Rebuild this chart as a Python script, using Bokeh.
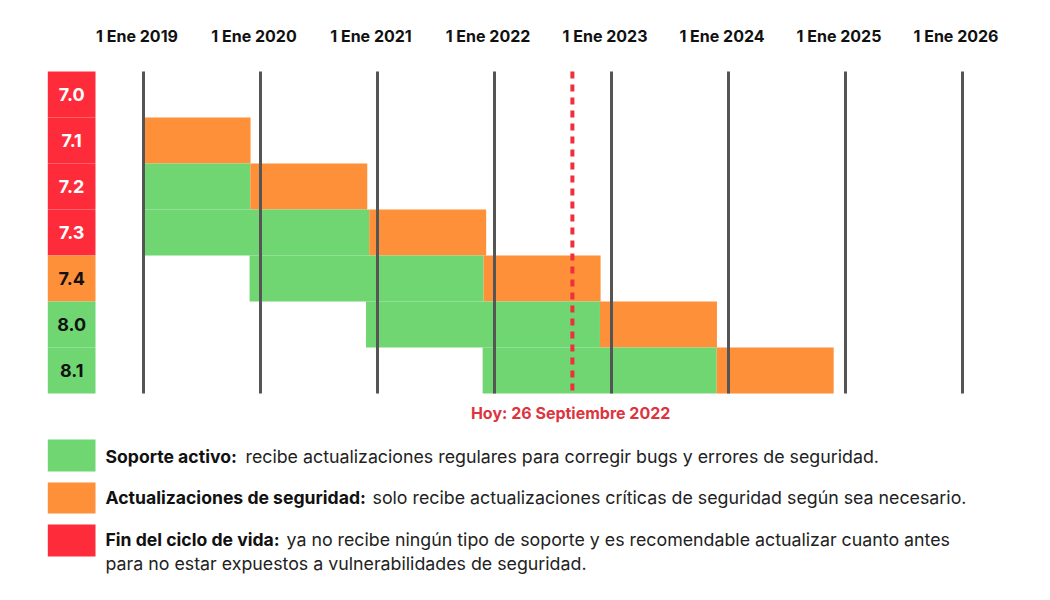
import datetime as dt
from bokeh.plotting import figure
from bokeh.models import Range1d, LinearAxis, FixedTicker, ColumnDataSource
from bokeh.core.properties import value
from bokeh.embed import file_html
from bokeh.resources import INLINE

# ---------------- data ----------------
versions = ["7.0", "7.1", "7.2", "7.3", "7.4", "8.0", "8.1"]
active_start = ["2015-12-03", "2016-12-01", "2017-11-30", "2018-12-06", "2019-11-28", "2020-11-26", "2021-11-25"]
active_end = ["2018-01-10", "2018-12-01", "2019-11-30", "2020-12-06", "2021-11-28", "2022-11-26", "2023-11-25"]
security_end = ["2018-12-31", "2019-12-01", "2020-11-30", "2021-12-06", "2022-11-28", "2023-11-26", "2024-11-25"]
version_status = ["eol", "eol", "eol", "eol", "security", "active", "active"]

year_ticks = [2019, 2020, 2021, 2022, 2023, 2024, 2025, 2026]
year_labels = ["1 Ene 2019", "1 Ene 2020", "1 Ene 2021", "1 Ene 2022",
               "1 Ene 2023", "1 Ene 2024", "1 Ene 2025", "1 Ene 2026"]

today_mark = "2022-09-01"
today_label = "Hoy: 26 Septiembre 2022"

legend_status = ["active", "security", "eol"]
legend_titles = ["Soporte activo:", "Actualizaciones de seguridad:", "Fin del ciclo de vida:"]
legend_texts = ["recibe actualizaciones regulares para corregir bugs y errores de seguridad.",
                "solo recibe actualizaciones críticas de seguridad según sea necesario.",
                "ya no recibe ningún tipo de soporte y es recomendable actualizar cuanto antes"]
legend_extra = "para no estar expuestos a vulnerabilidades de seguridad."

# ---------------- style ----------------
COLORS = {"active": "#6fd672", "security": "#fe9039", "eol": "#fe2c3a"}
TEXT_ON = {"active": "#111111", "security": "#111111", "eol": "#ffffff"}
FONT = value("Inter")

W, H = 1034, 584
TOP = 60
PX_PER_YEAR = 117.0
X0_PX = 143.0          # canvas x of first year line
ROW_PX = 46.0
ROW0_PX = 94.0         # canvas y of first row centre
LABEL_SHIFT = 6.5 / PX_PER_YEAR   # year labels sit slightly left of their line


def frac_year(s):
    d = dt.date.fromisoformat(s)
    start = dt.date(d.year, 1, 1)
    n = (dt.date(d.year + 1, 1, 1) - start).days
    return d.year + (d - start).days / n


def xpx(px):   # canvas px -> year coordinate (layout helper)
    return year_ticks[0] + (px - X0_PX) / PX_PER_YEAR


def ypx(px):   # canvas px -> row coordinate (layout helper)
    return (px - ROW0_PX) / ROW_PX


p = figure(width=W, height=H, output_backend="svg", toolbar_location=None,
           x_axis_type=None, y_axis_type=None,
           min_border_left=0, min_border_right=0, min_border_bottom=0, min_border_top=TOP,
           x_range=Range1d(xpx(0), xpx(W)),
           y_range=Range1d(ypx(H), ypx(TOP)))
p.outline_line_color = None
p.xgrid.visible = False
p.ygrid.visible = False
p.background_fill_color = "white"
p.border_fill_color = "white"

# top axis with year labels
label_pos = [y - LABEL_SHIFT for y in year_ticks]
ax = LinearAxis(ticker=FixedTicker(ticks=label_pos),
                major_label_overrides={t: l for t, l in zip(label_pos, year_labels)})
ax.axis_line_color = None
ax.major_tick_line_color = None
ax.minor_tick_line_color = None
ax.major_tick_out = 0
ax.major_label_standoff = 15
ax.major_label_text_font = "Inter"
ax.major_label_text_font_style = "bold"
ax.major_label_text_font_size = "16px"
ax.major_label_text_color = "#111111"
p.add_layout(ax, "above")

first = float(year_ticks[0])
rows = list(range(len(versions)))

# bars
bl, br, bt, bb, bc = [], [], [], [], []
for i in rows:
    a0 = max(frac_year(active_start[i]), first)
    a1 = frac_year(active_end[i])
    s1 = frac_year(security_end[i])
    if a1 > a0:
        bl.append(a0); br.append(a1); bt.append(i - 0.5); bb.append(i + 0.5); bc.append(COLORS["active"])
    s0 = max(a1, first)
    if s1 > s0:
        bl.append(s0); br.append(s1); bt.append(i - 0.5); bb.append(i + 0.5); bc.append(COLORS["security"])
p.quad(left=bl, right=br, top=bt, bottom=bb, fill_color=bc, line_color=None)

# version column
col_l, col_r = xpx(47.3), xpx(95)
vsrc = ColumnDataSource(dict(
    l=[col_l] * len(rows), r=[col_r] * len(rows),
    t=[i - 0.5 for i in rows], b=[i + 0.5 for i in rows],
    x=[(col_l + col_r) / 2] * len(rows), y=rows, v=versions,
    c=[COLORS[s] for s in version_status], tc=[TEXT_ON[s] for s in version_status]))
p.quad(left="l", right="r", top="t", bottom="b", fill_color="c", line_color=None, source=vsrc)
p.text(x="x", y="y", text="v", text_color="tc", text_font=FONT, text_font_style="bold",
       text_font_size="18px", text_align="center", text_baseline="middle", source=vsrc)

# year lines
p.segment(x0=year_ticks, y0=-0.5, x1=year_ticks, y1=len(rows) - 0.5,
          line_width=3, line_color="#555555")

# today line
t = frac_year(today_mark)
p.segment(x0=[t], y0=[-0.5], x1=[t], y1=[len(rows) - 0.5],
          line_width=4, line_color="#ef2f3c", line_dash="7 6")
p.text(x=[t - 0.015], y=[ypx(412)], text=[today_label], text_color="#dc3540",
       text_font=FONT, text_font_style="bold", text_font_size="16px",
       text_align="center", text_baseline="middle")

# legend
sq_top = [439, 482, 524]
sq_bot = [471, 513, 556]
p.quad(left=[col_l] * 3, right=[col_r] * 3,
       top=[ypx(v) for v in sq_top], bottom=[ypx(v) for v in sq_bot],
       fill_color=[COLORS[s] for s in legend_status], line_color=None)
line_y = [456, 497, 539]
text_x = [245, 372, 286]
p.text(x=[xpx(105)] * 3, y=[ypx(v) for v in line_y], text=legend_titles, text_color="#111111",
       text_font=FONT, text_font_style="bold", text_font_size="17.6px",
       text_align="left", text_baseline="middle")
p.text(x=[xpx(v) for v in text_x], y=[ypx(v) for v in line_y], text=legend_texts,
       text_color="#222222", text_font=FONT, text_font_size="17.8px",
       text_align="left", text_baseline="middle")
p.text(x=[xpx(105)], y=[ypx(563)], text=[legend_extra], text_color="#222222",
       text_font=FONT, text_font_size="17.8px", text_align="left", text_baseline="middle")

open("out.html", "w").write(file_html(p, INLINE))
